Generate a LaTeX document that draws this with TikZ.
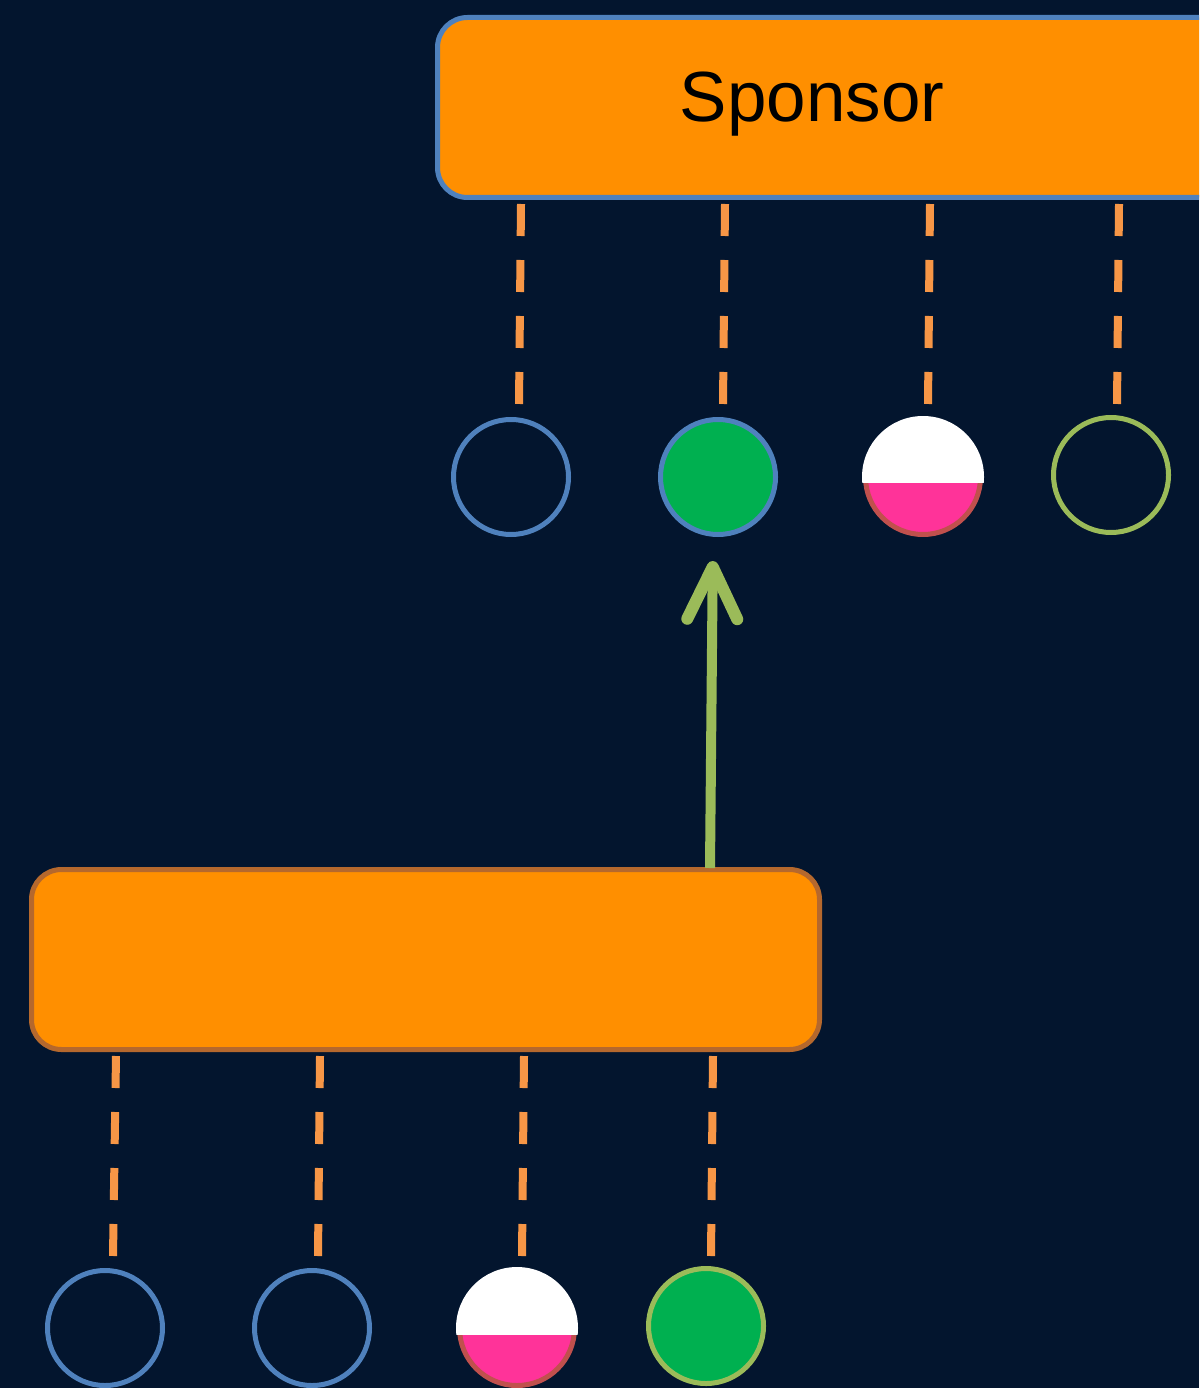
\documentclass[tikz,border=0pt]{standalone}
\usepackage{fontspec}
\setmainfont{Liberation Sans}
\usetikzlibrary{arrows.meta}
\definecolor{bg}{RGB}{3,21,46}
\definecolor{boxorange}{RGB}{255,143,0}
\definecolor{dashorange}{RGB}{247,150,70}
\definecolor{cblue}{RGB}{79,129,189}
\definecolor{cgreenline}{RGB}{155,187,89}
\definecolor{cgreen}{RGB}{0,176,80}
\definecolor{cpink}{RGB}{255,51,153}
\definecolor{cred}{RGB}{192,80,77}
\definecolor{boxbrown}{RGB}{181,104,45}
\begin{document}
\begin{tikzpicture}[x=1pt,y=-1pt,
  boxnode/.style={rectangle, rounded corners=30pt, fill=boxorange, line width=5pt, inner sep=0pt},
  circnode/.style={circle, minimum size=115pt, line width=5pt, inner sep=0pt},
  dashline/.style={draw=dashorange, line width=8pt, dash pattern=on 32pt off 24pt},
  arrowline/.style={draw=cgreenline, line width=10pt, -{Straight Barb[length=52pt,width=50pt,line width=12pt,round]}}
]
\clip (0,0) rectangle (1199,1388);
\fill[bg] (0,0) rectangle (1199,1388);

% top box
\node[boxnode, draw=cblue, minimum width=820pt, minimum height=180pt] (sponsor) at (847.5,107.5) {};
\node[anchor=base, font=\fontsize{71}{80}\selectfont, text=black] (sponsortext) at (812,122) {Sponsor};

% bottom box
\node[boxnode, draw=boxbrown, minimum width=788pt, minimum height=180pt] (lower) at (425.5,959.5) {};

% top circles
\node[circnode, draw=cblue] (c1) at (511,477) {};
\node[circnode, draw=cblue, fill=cgreen] (c2) at (718,477) {};
\node[circnode, draw=cred, fill=cpink] (c3) at (923,477) {};
\begin{scope}
  \clip (850,400) rectangle (1000,482);
  \fill[white] (c3.center) circle (61pt);
\end{scope}
\node[circnode, draw=cgreenline] (c4) at (1111,475) {};

% bottom circles
\node[circnode, draw=cblue] (d1) at (105,1328) {};
\node[circnode, draw=cblue] (d2) at (312,1328) {};
\node[circnode, draw=cred, fill=cpink] (d3) at (517,1328) {};
\begin{scope}
  \clip (440,1250) rectangle (600,1334);
  \fill[white] (d3.center) circle (61pt);
\end{scope}
\node[circnode, draw=cgreenline, fill=cgreen] (d4) at (706,1326) {};

% dashed connectors, top
\coordinate (s1) at (521,204); \coordinate (e1) at (519,404);
\coordinate (s2) at (725,204); \coordinate (e2) at (723,404);
\coordinate (s3) at (930,204); \coordinate (e3) at (928,404);
\coordinate (s4) at (1119,204); \coordinate (e4) at (1117,404);
\draw[dashline] (s1) -- (e1);
\draw[dashline] (s2) -- (e2);
\draw[dashline] (s3) -- (e3);
\draw[dashline] (s4) -- (e4);

% dashed connectors, bottom
\coordinate (t1) at (116,1056); \coordinate (f1) at (113,1256);
\coordinate (t2) at (320,1056); \coordinate (f2) at (318,1256);
\coordinate (t3) at (524,1056); \coordinate (f3) at (522,1256);
\coordinate (t4) at (713,1056); \coordinate (f4) at (711,1256);
\draw[dashline] (t1) -- (f1);
\draw[dashline] (t2) -- (f2);
\draw[dashline] (t3) -- (f3);
\draw[dashline] (t4) -- (f4);

% green arrow
\coordinate (a0) at (710,868);
\draw[arrowline, shorten >=24pt] (a0) -- ([xshift=-5pt]c2.south);
\end{tikzpicture}
\end{document}
